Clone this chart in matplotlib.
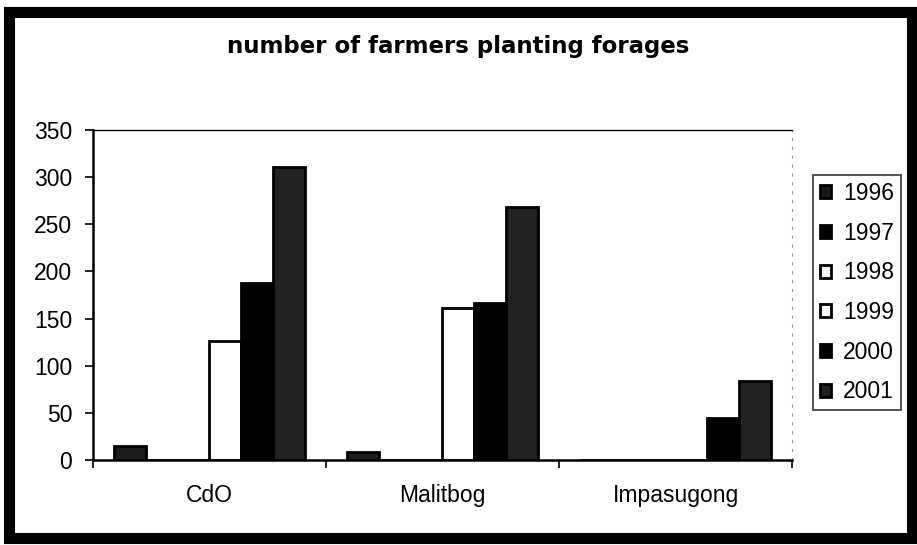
import numpy as np
import matplotlib
matplotlib.use("Agg")
import matplotlib.pyplot as plt
from matplotlib.patches import Rectangle

plt.rcParams['font.family'] = ['Liberation Sans', 'DejaVu Sans']

# data
sites = ["CdO", "Malitbog", "Impasugong"]
years = ["1996", "1997", "1998", "1999", "2000", "2001"]
y1996 = [15, 8, 0]
y1997 = [0, 0, 0]
y1998 = [0, 0, 0]
y1999 = [126, 161, 0]
y2000 = [188, 167, 45]
y2001 = [311, 268, 84]
yticks = [0, 50, 100, 150, 200, 250, 300, 350]

series = [y1996, y1997, y1998, y1999, y2000, y2001]
fills = ['#1c1c1c', '#000000', 'white', 'white', '#000000', '#222222']

fig = plt.figure(figsize=(9.17, 5.45), dpi=100)
ax = fig.add_axes([0.1014, 0.156, 0.7623, 0.6055])

x = np.arange(len(sites))
w = 0.137
for i, (vals, fc) in enumerate(zip(series, fills)):
    ax.bar(x + (i - 2.5) * w, vals, w, color=fc, edgecolor='black',
           linewidth=2, label=years[i])

ax.set_xlim(-0.5, 2.5)
ax.set_ylim(0, 350)
ax.set_yticks(yticks)
ax.set_xticks(x)
ax.set_xticklabels(sites, fontsize=16.5)
ax.set_xticks([-0.5, 0.5, 1.5, 2.5], minor=True)
ax.tick_params(axis='x', which='major', length=0, pad=17)
ax.tick_params(axis='x', which='minor', length=6, width=1.2, direction='out')
ax.tick_params(axis='y', length=6, width=1.2, labelsize=16.5, pad=9)

for s in ['left', 'bottom']:
    ax.spines[s].set_linewidth(1.8)
ax.spines['top'].set_linewidth(1.0)
ax.spines['right'].set_linestyle((0, (2, 6)))
ax.spines['right'].set_color('#999999')
ax.spines['right'].set_linewidth(0.8)

fig.text(0.5, 0.914, "number of farmers planting forages", ha='center', va='center',
         fontsize=16.5, fontweight='bold', family='DejaVu Sans')

leg = fig.legend(loc='upper left', bbox_to_anchor=(0.8866, 0.679),
                 fontsize=16.5, frameon=True, fancybox=False, edgecolor='black',
                 handlelength=0.5, handleheight=0.5, handletextpad=0.5,
                 labelspacing=0.73, borderpad=0.3, borderaxespad=0)
leg.get_frame().set_linewidth(1.2)

# thick outer frame of the scanned chart
fig.patches.append(Rectangle((0.0098, 0.0128), 0.9847, 0.965, transform=fig.transFigure,
                             fill=False, edgecolor='black', linewidth=8))

fig.savefig("out.png", dpi=100)
